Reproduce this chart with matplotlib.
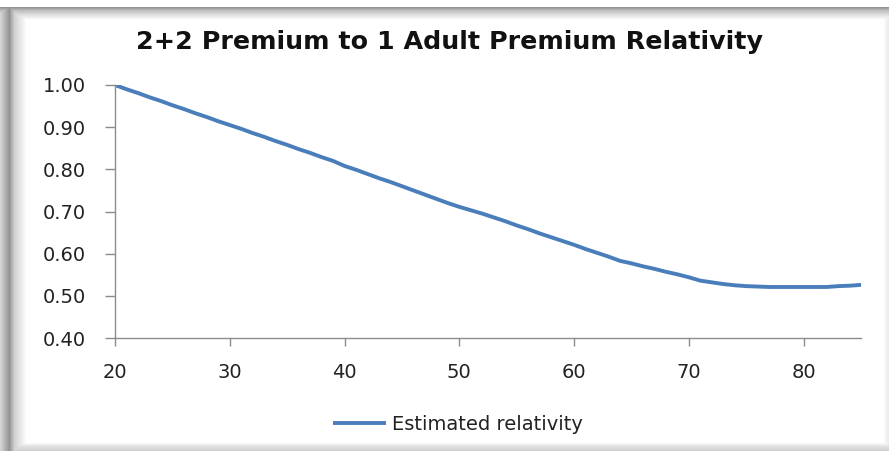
import numpy as np
import matplotlib
matplotlib.use("Agg")
import matplotlib.pyplot as plt

plt.rcParams['font.family'] = ['DejaVu Sans']

ages = list(range(20, 86))
relativity = [
    1.000, 0.990, 0.981, 0.971, 0.962, 0.952, 0.943, 0.933, 0.924, 0.914,
    0.905, 0.896, 0.886, 0.877, 0.867, 0.858, 0.848, 0.839, 0.829, 0.820,
    0.808, 0.799, 0.789, 0.779, 0.770, 0.760, 0.750, 0.740, 0.730, 0.720,
    0.711, 0.703, 0.695, 0.686, 0.677, 0.667, 0.658, 0.648, 0.639, 0.630,
    0.621, 0.611, 0.602, 0.593, 0.583, 0.577, 0.570, 0.564, 0.557, 0.551,
    0.544, 0.536, 0.532, 0.528, 0.525, 0.523, 0.522, 0.521, 0.521, 0.521,
    0.521, 0.521, 0.521, 0.523, 0.524, 0.526,
]

title = "2+2 Premium to 1 Adult Premium Relativity"
series_name = "Estimated relativity"
x_ticks = [20, 30, 40, 50, 60, 70, 80]
y_ticks = [0.40, 0.50, 0.60, 0.70, 0.80, 0.90, 1.00]

W, H = 889, 451
fig = plt.figure(figsize=(W / 100, H / 100), dpi=100)

# frame with a soft inner shadow along the left and top edges
bg = np.ones((H, W))
cols = np.arange(W)
rows = np.arange(H)
left = np.interp(cols, [0, 9, 14, 26], [0.84, 0.58, 0.82, 1.0])
top = np.interp(rows, [0, 6, 7, 10, 19], [1.0, 1.0, 0.58, 0.75, 1.0])
bottom = np.interp(rows, [442, 446, 450], [1.0, 0.88, 0.82])
right = np.interp(cols, [883, 886, 888], [1.0, 0.95, 0.93])
bg = np.minimum(bg, left[None, :])
bg = np.minimum(bg, top[:, None])
bg = np.minimum(bg, bottom[:, None])
bg = np.minimum(bg, right[None, :])
bg[:7, :] = 1.0
back = fig.add_axes([0, 0, 1, 1])
back.imshow(np.dstack([bg, bg, bg]), aspect='auto', interpolation='bilinear')
back.axis('off')

ax = fig.add_axes([115 / W, 1 - 338 / H, (861 - 115) / W, (338 - 85) / H])
ax.patch.set_alpha(0)
line, = ax.plot(ages, relativity, color='#4A7EBB', lw=2.8, solid_capstyle='butt')

ax.set_xlim(20, 85)
ax.set_ylim(0.40, 1.00)
ax.set_xticks(x_ticks)
ax.set_yticks(y_ticks)
ax.set_yticklabels([f"{v:.2f}" for v in y_ticks])
for s in ['top', 'right']:
    ax.spines[s].set_visible(False)
for s in ['left', 'bottom']:
    ax.spines[s].set_color('#8C8C8C')
    ax.spines[s].set_linewidth(1.0)
ax.tick_params(axis='y', length=7, width=1, color='#8C8C8C', pad=14,
               labelsize=14, labelcolor='#222222')
ax.tick_params(axis='x', length=6, width=1, color='#8C8C8C', pad=12,
               labelsize=14, labelcolor='#222222')

fig.text(0.506, 1 - 42 / H, title, ha='center', va='center',
         fontsize=18.3, fontweight='bold', color='#111111')

fig.legend([line], [series_name], loc='center', bbox_to_anchor=(0.515, 1 - 424 / H),
           frameon=False, fontsize=14, handlelength=2.7, handletextpad=0.3,
           labelcolor='#222222')

fig.savefig("out.png", dpi=100)
